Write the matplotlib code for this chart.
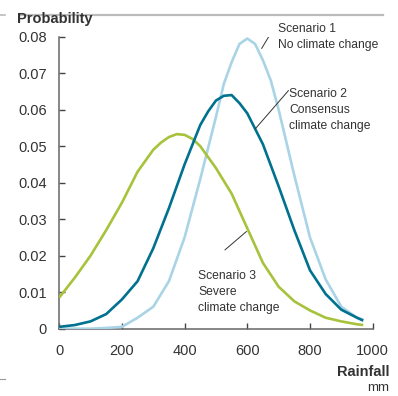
import matplotlib
matplotlib.use("Agg")
import matplotlib.pyplot as plt
from matplotlib.lines import Line2D

plt.rcParams['font.family'] = ['Liberation Sans', 'DejaVu Sans']

# Rainfall (mm) and probability for each scenario
rain_s1 = [0, 50, 100, 150, 200, 250, 300, 350, 400, 450, 500, 525, 550, 575,
           600, 625, 650, 675, 700, 750, 800, 850, 900, 950, 970]
prob_s1 = [0.0, 0.0, 0.0, 0.0002, 0.0005, 0.003, 0.006, 0.013, 0.025, 0.041,
           0.058, 0.067, 0.073, 0.078, 0.0795, 0.078, 0.0735, 0.068, 0.060,
           0.042, 0.025, 0.0135, 0.006, 0.003, 0.0025]

rain_s2 = [0, 50, 100, 150, 200, 250, 300, 350, 400, 450, 475, 500, 525, 550,
           575, 600, 650, 700, 750, 800, 850, 900, 950, 970]
prob_s2 = [0.0005, 0.001, 0.002, 0.004, 0.008, 0.013, 0.022, 0.033, 0.045,
           0.0558, 0.0595, 0.0625, 0.0638, 0.064, 0.0618, 0.059, 0.0505, 0.039,
           0.027, 0.016, 0.0095, 0.0052, 0.003, 0.0022]

rain_s3 = [0, 50, 100, 150, 200, 250, 300, 325, 350, 375, 400, 425, 450, 500,
           550, 600, 650, 700, 750, 800, 850, 900, 950, 970]
prob_s3 = [0.0085, 0.014, 0.020, 0.027, 0.0345, 0.043, 0.049, 0.051, 0.0525,
           0.0533, 0.0531, 0.052, 0.050, 0.044, 0.037, 0.0275, 0.018, 0.0115,
           0.0075, 0.005, 0.003, 0.002, 0.0012, 0.001]

x_ticks = [0, 200, 400, 600, 800, 1000]
y_ticks = [0, 0.01, 0.02, 0.03, 0.04, 0.05, 0.06, 0.07, 0.08]
y_tick_labels = ['0', '0.01', '0.02', '0.03', '0.04', '0.05', '0.06', '0.07', '0.08']

c_s1 = '#a9d4e6'
c_s2 = '#00718f'
c_s3 = '#a7c23b'
text_c = '#333333'
axis_c = '#666666'

fig = plt.figure(figsize=(3.98, 3.96), dpi=100)
ax = fig.add_axes([0.1487, 0.170, 0.7877, 0.7374])

lw = 1.9
line_kw = dict(lw=lw, solid_joinstyle='round', solid_capstyle='butt')
ax.plot(rain_s1, prob_s1, color=c_s1, zorder=3, **line_kw)
ax.plot(rain_s3, prob_s3, color=c_s3, zorder=4, **line_kw)
ax.plot(rain_s2, prob_s2, color=c_s2, zorder=5, **line_kw)

ax.set_xlim(0, 1000)
ax.set_ylim(0, 0.08)
ax.set_xticks(x_ticks)
ax.set_xticklabels([str(v) for v in x_ticks])
ax.set_yticks(y_ticks)
ax.set_yticklabels(y_tick_labels)

for s in ['top', 'right']:
    ax.spines[s].set_visible(False)
for s in ['left', 'bottom']:
    ax.spines[s].set_color(axis_c)
    ax.spines[s].set_linewidth(1.1)

ax.tick_params(axis='both', direction='in', length=4, width=1.0, color='#444444',
               labelsize=10.5, labelcolor=text_c)
ax.tick_params(axis='y', pad=9)
ax.tick_params(axis='x', pad=11)

# Axis titles
fig.text(17 / 398, 1 - 18.5 / 396, 'Probability', fontsize=10.5, fontweight='bold',
         color=text_c, ha='left', va='center')
fig.text(389 / 398, 1 - 372 / 396, 'Rainfall', fontsize=10.5, fontweight='bold',
         color=text_c, ha='right', va='center')
fig.text(389 / 398, 1 - 388 / 396, 'mm', fontsize=9.5, color=text_c,
         ha='right', va='center')

# Scenario labels with leader lines
lab_kw = dict(fontsize=8.7, color=text_c, ha='left', va='top', linespacing=1.45)
ax.text(698, 0.0838, 'Scenario 1\nNo climate change', **lab_kw)
ax.plot([646, 681], [0.0768, 0.0818], color=text_c, lw=0.7, zorder=6)

ax.text(733, 0.0660, 'Scenario 2\nConsensus\nclimate change', **lab_kw)
ax.plot([626, 731], [0.0548, 0.0652], color=text_c, lw=0.7, zorder=6)

ax.text(443, 0.0162, 'Scenario 3\nSevere\nclimate change', **lab_kw)
ax.plot([529, 597], [0.0216, 0.0266], color=text_c, lw=0.7, zorder=6)

# Decorative rules
rule_c = '#bbbbbb'
fig.add_artist(Line2D([21 / 398, 383 / 398], [1 - 15 / 396] * 2, color=rule_c, lw=1.6))
fig.add_artist(Line2D([0, 5 / 398], [1 - 15 / 396] * 2, color=rule_c, lw=1.2))
fig.add_artist(Line2D([0, 5 / 398], [1 - 379 / 396] * 2, color='#999999', lw=0.8))

fig.savefig('out.png', dpi=100)
